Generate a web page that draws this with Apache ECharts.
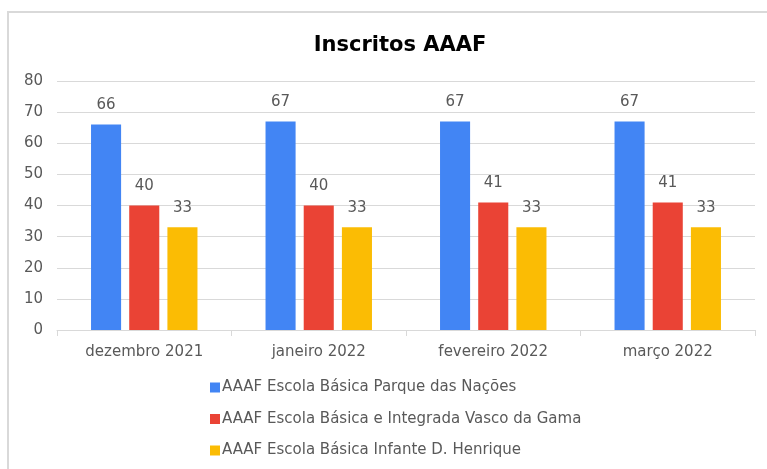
<!DOCTYPE html>
<html>
<head>
<meta charset="utf-8">
<script src="https://cdn.jsdelivr.net/npm/echarts@6/dist/echarts.min.js"></script>
<style>
html,body{margin:0;padding:0;background:#fff;}
#chart{width:767px;height:469px;}
</style>
</head>
<body>
<div id="chart"></div>
<script>
var categories = ['dezembro 2021', 'janeiro 2022', 'fevereiro 2022', 'março 2022'];
var seriesNames = [
  'AAAF Escola Básica Parque das Nações',
  'AAAF Escola Básica e Integrada Vasco da Gama',
  'AAAF Escola Básica Infante D. Henrique'
];
var parqueNacoes = [66, 67, 67, 67];
var vascoGama = [40, 40, 41, 41];
var infanteHenrique = [33, 33, 33, 33];
var yTicks = [0, 10, 20, 30, 40, 50, 60, 70, 80];

var colors = ['#4285F4', '#EA4335', '#FBBC04'];
var font = 'DejaVu Sans, Verdana, sans-serif';
var values = [parqueNacoes, vascoGama, infanteHenrique];

var chart = echarts.init(document.getElementById('chart'));
var series = values.map(function (v, i) {
  return {
    name: seriesNames[i],
    type: 'bar',
    data: v,
    barGap: '27%',
    barCategoryGap: '39%',
    itemStyle: { color: colors[i] },
    label: {
      show: true, position: 'top', distance: 12,
      color: '#595959', fontSize: 15, fontFamily: font
    }
  };
});
chart.setOption({
  animation: false,
  color: colors,
  title: {
    text: 'Inscritos AAAF',
    left: 395, textAlign: 'center', top: 30,
    textStyle: { fontFamily: font, fontWeight: 'bold', fontSize: 21, color: '#000' }
  },
  graphic: [{
    type: 'rect', silent: true, z: -1,
    shape: { x: 8, y: 12, width: 800, height: 500 },
    style: { fill: 'none', stroke: '#d9d9d9', lineWidth: 2 }
  }],
  grid: { left: 57, right: 12, top: 81, bottom: 139, containLabel: false },
  legend: {
    orient: 'vertical', left: 205, top: 375,
    icon: 'rect', itemWidth: 10, itemHeight: 10, itemGap: 16.5,
    textStyle: { fontFamily: font, fontSize: 15, color: '#595959', padding: [0, 0, 0, -3] },
    data: seriesNames
  },
  xAxis: {
    type: 'category', data: categories,
    axisLine: { lineStyle: { color: '#d9d9d9', width: 1 } },
    axisTick: { show: true, length: 6, lineStyle: { color: '#d9d9d9' } },
    axisLabel: { color: '#595959', fontSize: 15, fontFamily: font, margin: 15 }
  },
  yAxis: {
    type: 'value', min: yTicks[0], max: yTicks[yTicks.length - 1], interval: 10,
    axisLine: { show: false }, axisTick: { show: false },
    splitLine: { lineStyle: { color: '#d9d9d9' } },
    axisLabel: { color: '#595959', fontSize: 15, fontFamily: font, margin: 14 }
  },
  series: series
});
</script>
</body>
</html>
